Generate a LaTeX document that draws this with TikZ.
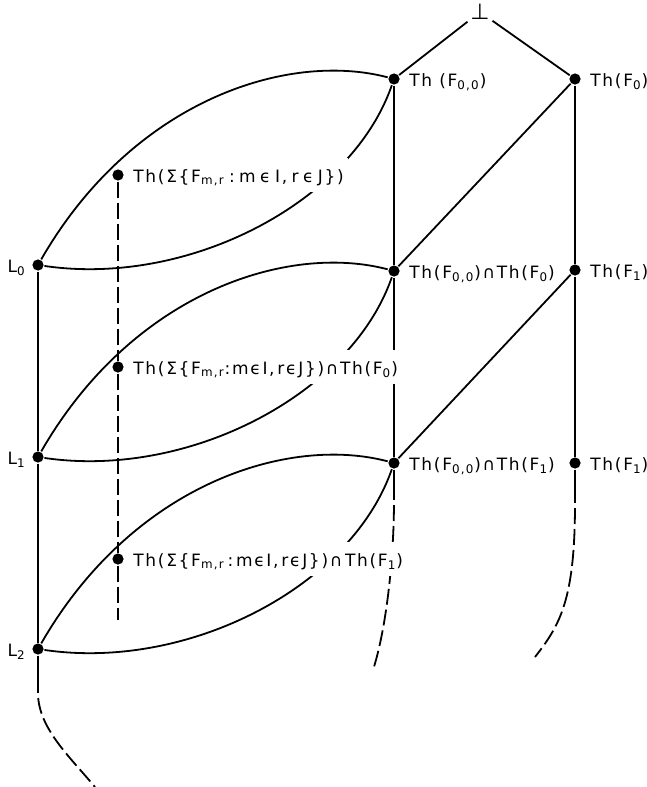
\documentclass[tikz,border=0pt]{standalone}
\usepackage{fontspec}
\setmainfont{DejaVu Sans}[LetterSpace=10]
\usetikzlibrary{positioning}
\tikzset{
  vtx/.style={circle, fill=black, inner sep=0pt, minimum size=5.6pt},
  lbl/.style={font=\fontsize{8.5}{10}\selectfont, inner sep=1pt, text height=1.9ex, text depth=0.55ex},
  cut/.style={lbl, fill=white, inner sep=2pt},
  dsh/.style={dash pattern=on 8pt off 2.5pt},
}
\newcommand{\lens}[2]{\draw (#1) .. controls +(95,-165) and +(-106,-28) .. (#2);
  \draw (#1) .. controls +(150,22) and +(-43,124) .. (#2);}
\newcommand{\Th}[1]{Th(F\textsubscript{#1})}
\newcommand{\Fmr}{F\textsubscript{m,r}}
\newcommand{\ws}{\hspace{0.26em}}

\begin{document}
\begin{tikzpicture}[x=0.5pt, y=-0.5pt, line width=0.9pt]
\useasboundingbox (0,0) rectangle (647,787);

% points
\node[vtx] (f00) at (394,79) {};
\node[vtx] (f0) at (575,79) {};
\node[vtx] (s0) at (118,175) {};
\node[vtx] (l0) at (38,265) {};
\node[vtx] (f00f0) at (394,271) {};
\node[vtx] (f1a) at (575,270) {};
\node[vtx] (s1) at (118,367) {};
\node[vtx] (l1) at (38,457) {};
\node[vtx] (f00f1) at (394,463) {};
\node[vtx] (f1b) at (575,463) {};
\node[vtx] (s2) at (118,559) {};
\node[vtx] (l2) at (38,649) {};
\node[lbl, font=\fontsize{11}{12}\selectfont] (bot) at (480,12) {⊥};
\coordinate (tl) at (38,693);
\coordinate (tm) at (394,500);
\coordinate (tr) at (575,503);
\coordinate (sb) at (118,620);
\coordinate (el) at (95,787);
\coordinate (em) at (373,670);
\coordinate (er) at (535,657);

% lines
\draw (bot) -- (f00);
\draw (bot) -- (f0);
\draw (l0) -- (l1) -- (l2) -- (tl);
\draw (f00) -- (f00f0) -- (f00f1) -- (tm);
\draw (f0) -- (f1a) -- (f1b) -- (tr);
\draw (f0) -- (f00f0);
\draw (f1a) -- (f00f1);
\draw[dsh] (s0) -- (s1) -- (s2) -- (sb);
\draw[dsh, dash phase=8pt] (tl) .. controls +(0,35) and +(-25,-30) .. (el);
\draw[dsh, dash phase=8pt] (tm) .. controls +(0,60) and +(13,-40) .. (em);
\draw[dsh, dash phase=8pt] (tr) .. controls +(0,97) and +(25,-32) .. (er);
\lens{l0}{f00}
\lens{l1}{f00f0}
\lens{l2}{f00f1}

% labels
\node[lbl, right=3pt of f00] (f00t) {Th (F\textsubscript{0,0})};
\node[lbl, right=3pt of f0] (f0t) {\Th{0}};
\node[lbl, right=3pt of f00f0] (f00f0t) {\Th{0,0}∩\Th{0}};
\node[lbl, right=3pt of f1a] (f1at) {\Th{1}};
\node[lbl, right=3pt of f00f1] (f00f1t) {\Th{0,0}∩\Th{1}};
\node[lbl, right=3pt of f1b] (f1bt) {\Th{1}};
\node[lbl, left=1.5pt of l0] (l0t) {L\textsubscript{0}};
\node[lbl, left=1.5pt of l1] (l1t) {L\textsubscript{1}};
\node[lbl, left=1.5pt of l2] (l2t) {L\textsubscript{2}};
\node[cut, right=2pt of s0] (s0t) {Th(Σ\{\Fmr\ws:\ws m\ws ϵ\ws I,\ws r\ws ϵ\ws J\})};
\node[cut, right=2pt of s1] (s1t) {Th(Σ\{\Fmr:mϵI,\,rϵJ\})∩\Th{0}};
\node[cut, right=2pt of s2] (s2t) {Th(Σ\{\Fmr\,:\,mϵI,\,rϵJ\})∩\,\Th{1}};

\end{tikzpicture}
\end{document}
